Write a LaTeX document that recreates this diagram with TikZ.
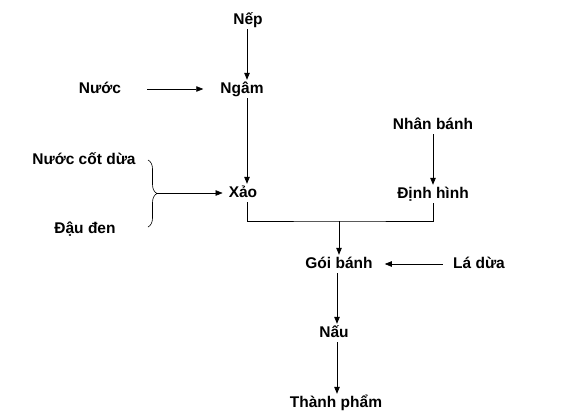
\documentclass[tikz,border=0pt]{standalone}
\usepackage{fontspec}
\setmainfont{Liberation Sans}
\usetikzlibrary{arrows.meta,decorations.pathreplacing}

\begin{document}
\begin{tikzpicture}[x=1pt,y=-1pt,
  every node/.style={font=\bfseries\fontsize{15.5}{18}\selectfont, inner sep=2pt, text height=11pt, text depth=3pt},
  flow/.style={draw, line width=0.8pt, -{Triangle[length=7pt,width=5.5pt]}},
  feed/.style={flow, line width=0.6pt}]
\useasboundingbox (0,0) rectangle (575,416);
\coordinate (ca) at (247,0);
\coordinate (cb) at (433,0);
\coordinate (cc) at (339,0);
\coordinate (cd) at (337,0);
\node (nep) at (248,20) {Nếp};
\node (ngam) at (242,89) {Ngâm};
\node (nuoc) at (100,89) {Nước};
\node (cotdua) at (84,160) {Nước cốt dừa};
\node (dauden) at (85,229) {Đậu đen};
\node (xao) at (243,193) {Xảo};
\node (nhan) at (433,125) {Nhân bánh};
\node (dinh) at (433,194) {Định hình};
\node (goi) at (339,264) {Gói bánh};
\node (la) at (479,264) {Lá dừa};
\node (nau) at (334,333) {Nấu};
\node (tp) at (336,403) {Thành phẩm};
\foreach \a/\b/\c in {nep/ngam/ca, ngam/xao/ca, nhan/dinh/cb, goi/nau/cd, nau/tp/cd} {
    \draw[flow] (\c |- \a.south) -- (\c |- \b.north);
}
\draw[feed, shorten <=24pt, shorten >=15pt] (nuoc.east) -- (nuoc.east -| ngam.west);
\draw[feed, shorten <=8pt, shorten >=10pt] (la.west) -- (goi.east);
% brace for the two fillings
\draw[decorate, decoration={brace, amplitude=9pt}, line width=0.6pt] (148,160) -- (148,227);
\coordinate (tip) at (157,193);
\draw[feed, shorten >=4pt] (tip) -- (xao.west);
% join the two lines
\coordinate (join) at (339,221);
\draw[line width=0.8pt] (ca |- xao.south) |- (join) -| (cb |- dinh.south);
\draw[flow] (join) -- (cc |- goi.north);
\end{tikzpicture}
\end{document}
